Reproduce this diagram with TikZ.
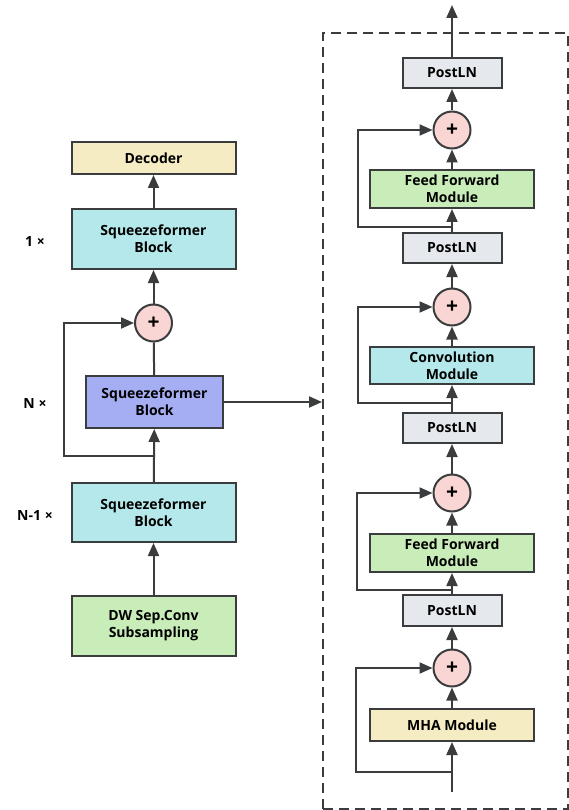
\documentclass[tikz,border=0pt]{standalone}
\usepackage{fontspec}
\setmainfont{Open Sans}
\usetikzlibrary{arrows.meta}
\definecolor{linec}{HTML}{3A3C3E}
\definecolor{tanc}{HTML}{F5ECC4}
\definecolor{cyanc}{HTML}{B4E8EA}
\definecolor{greenc}{HTML}{C9EDB8}
\definecolor{purpc}{HTML}{A6AEF3}
\definecolor{greyc}{HTML}{E5E9ED}
\definecolor{pinkc}{HTML}{F9D6D4}
\begin{document}
\begin{tikzpicture}[x=1pt,y=-1pt,
  box/.style={draw=linec, line width=2pt, align=center, inner sep=0pt,
    font=\bfseries\fontsize{14}{17}\selectfont},
  lnbox/.style={box, fill=greyc, minimum width=99pt, minimum height=30pt},
  modbox/.style={box, minimum width=164pt},
  sumnode/.style={circle, draw=linec, line width=2pt, fill=pinkc,
    minimum size=37pt, inner sep=0pt, font=\bfseries\fontsize{21}{21}\selectfont},
  lab/.style={font=\bfseries\fontsize{14}{17}\selectfont, inner sep=0pt},
  conn/.style={draw=linec, line width=2pt},
  arr/.style={conn, -{Triangle[length=13pt,width=11pt]}},
]
\useasboundingbox (0,0) rectangle (569,810);

% ---------- encoder stack ----------
\node[modbox, fill=tanc, minimum height=32pt] (dec) at (153.5,158) {Decoder};
\node[modbox, fill=cyanc, minimum height=60pt] (top) at (153.5,239) {Squeezeformer\\Block};
\node[sumnode] (lp) at (153.5,323) {+};
\node[box, fill=purpc, minimum width=137pt, minimum height=52pt] (mid) at (154.5,402) {Squeezeformer\\Block};
\node[modbox, fill=cyanc, minimum height=59pt] (low) at (153.5,512.5) {Squeezeformer\\Block};
\node[modbox, fill=greenc, minimum height=60pt] (dw) at (153.5,626) {DW Sep.Conv\\Subsampling};

\node[lab] (l1) at (35,242) {1 ×};
\node[lab] (l2) at (35,404) {N ×};
\node[lab] (l3) at (35,515) {N-1 ×};

\coordinate (lj) at (153.5,456);
\coordinate (lk1) at (64,456);
\coordinate (lk2) at (64,323);

\draw[arr] (dw) -- (low);
\draw[arr] (low) -- (mid);
\draw[arr] (lj) -- (lk1) -- (lk2) -- (lp.west);
\draw[conn] (mid) -- (lp);
\draw[arr] (lp) -- (top);
\draw[arr] (top) -- (dec);

% ---------- block detail ----------
\node[draw=linec, line width=2pt, dash pattern=on 10pt off 6pt,
  minimum width=245pt, minimum height=776pt, inner sep=0pt] (frame) at (445.5,421) {};

\draw[arr] (mid.east) -- (frame.west |- mid.east);

\node[lnbox] (p1) at (452,73) {PostLN};
\node[sumnode] (a1) at (452,130) {+};
\node[modbox, fill=greenc, minimum height=38pt] (f1) at (452,189) {Feed Forward\\Module};
\node[lnbox] (p2) at (452,248) {PostLN};
\node[sumnode] (a2) at (452,307) {+};
\node[modbox, fill=cyanc, minimum height=37pt] (cv) at (452,365.5) {Convolution\\Module};
\node[lnbox] (p3) at (452,428) {PostLN};
\node[sumnode] (a3) at (452,493) {+};
\node[modbox, fill=greenc, minimum height=38pt] (f2) at (452,553) {Feed Forward\\Module};
\node[lnbox, minimum height=31pt] (p4) at (452,610.5) {PostLN};
\node[sumnode] (a4) at (452,668) {+};
\node[modbox, fill=tanc, minimum height=32pt] (mha) at (452,725) {MHA Module};

\coordinate (in) at (452,792);
\coordinate (out) at (452,5);
\coordinate (j1) at (452,227);
\coordinate (j2) at (452,403);
\coordinate (j3) at (452,590);
\coordinate (j4) at (452,772);
\coordinate (s1b) at (358,227);
\coordinate (s1t) at (358,130);
\coordinate (s2b) at (358,403);
\coordinate (s2t) at (358,307);
\coordinate (s3b) at (357,590);
\coordinate (s3t) at (357,493);
\coordinate (s4b) at (356,772);
\coordinate (s4t) at (356,668);

\draw[arr] (in) -- (mha);
\draw[arr] (j4) -- (s4b) -- (s4t) -- (a4.west);
\draw[arr] (mha) -- (a4);
\draw[arr] (a4) -- (p4);
\draw[arr] (p4) -- (f2);
\draw[arr] (j3) -- (s3b) -- (s3t) -- (a3.west);
\draw[arr] (f2) -- (a3);
\draw[arr] (a3) -- (p3);
\draw[arr] (p3) -- (cv);
\draw[arr] (j2) -- (s2b) -- (s2t) -- (a2.west);
\draw[arr] (cv) -- (a2);
\draw[arr] (a2) -- (p2);
\draw[arr] (p2) -- (f1);
\draw[arr] (j1) -- (s1b) -- (s1t) -- (a1.west);
\draw[arr] (f1) -- (a1);
\draw[arr] (a1) -- (p1);
\draw[arr] (p1) -- (out);
\end{tikzpicture}
\end{document}
